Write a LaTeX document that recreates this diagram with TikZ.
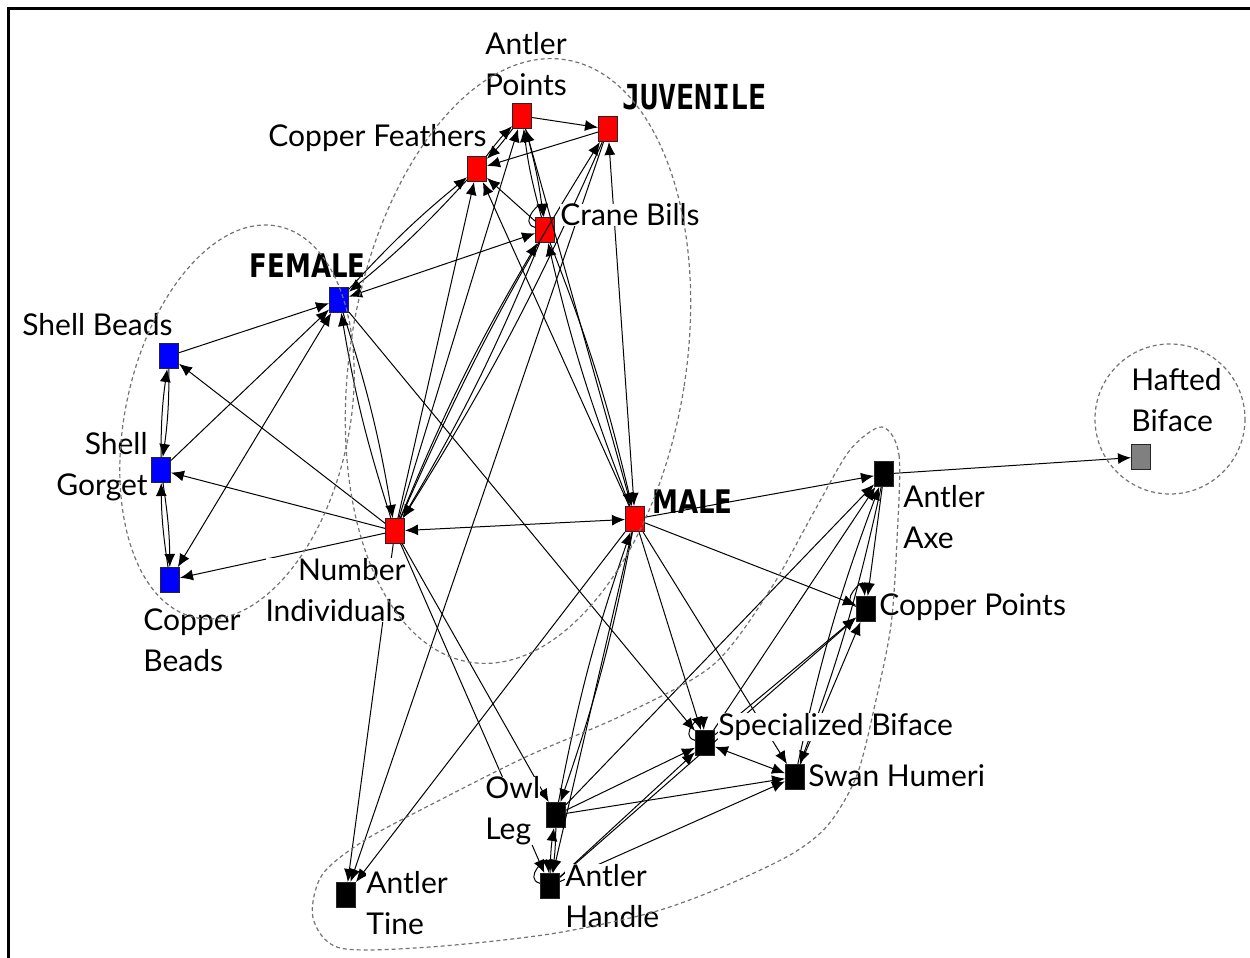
\documentclass[tikz,border=0pt]{standalone}
\usepackage{fontspec}
\setmainfont{Lato}
\newfontfamily\sexfont{DejaVu Sans}
\newfontfamily\agefont{DejaVu Sans Mono}
\usetikzlibrary{arrows.meta}

\begin{document}
\begin{tikzpicture}[x=0.5pt,y=-0.5pt,
    sq/.style={draw=black!85, line width=0.5pt, minimum width=9.5pt, minimum height=12.5pt, inner sep=0pt},
    juv/.style={sq, fill=red},
    fem/.style={sq, fill=blue},
    tool/.style={sq, fill=black},
    lone/.style={sq, fill=black!50},
    lbl/.style={inner sep=0pt, fill=white, font=\fontsize{15}{20.5}\selectfont},
    sex/.style={inner sep=0pt, font=\sexfont\bfseries\fontsize{13}{15}\selectfont},
    age/.style={inner sep=0pt, font=\agefont\bfseries\fontsize{15}{17}\selectfont},
    arc/.style={line width=0.5pt, -{Latex[length=6.5pt,width=5.5pt]}},
    twoway/.style={line width=0.5pt, {Latex[length=6.5pt,width=5.5pt]}-{Latex[length=6.5pt,width=5.5pt]}},
    group/.style={draw=black!55, line width=0.6pt, dash pattern=on 2pt off 1.5pt}]
  \useasboundingbox (0,0) rectangle (1250,958);

  % attributes
  \node[juv] (AP) at (522,116) {};
  \node[juv] (JUV) at (608,129) {};
  \node[juv] (CF) at (477,169) {};
  \node[juv] (CB) at (545,230) {};
  \node[fem] (FEM) at (339,300) {};
  \node[fem] (SB) at (169,356) {};
  \node[fem] (SG) at (161,470) {};
  \node[fem] (CBe) at (170,580) {};
  \node[juv] (NI) at (395,531) {};
  \node[juv] (MALE) at (635,519) {};
  \node[tool] (AA) at (884,474) {};
  \node[lone] (HB) at (1141,457) {};
  \node[tool] (CP) at (866,609) {};
  \node[tool] (SpB) at (705,743) {};
  \node[tool] (SH) at (795,777) {};
  \node[tool] (OL) at (556,815) {};
  \node[tool] (AH) at (550,886) {};
  \node[tool] (AT) at (346,895) {};

  % one way ties
  \foreach \a/\b in {AP/JUV, JUV/CF, CB/CF, SB/FEM, SG/FEM, NI/SB, NI/SG, NI/CBe,
      MALE/AA, MALE/CP, AA/HB, AA/CP, FEM/SpB, MALE/CF, NI/CF, NI/AP,
      MALE/SpB, MALE/SH, MALE/AT, NI/AT, JUV/AT, NI/OL, NI/AH, MALE/AH,
      OL/SpB, OL/SH, AH/SpB, AH/SH, SpB/AA, SpB/CP, SH/CP, OL/AA, AH/CP}
    \draw[arc] (\a) -- (\b);
  % mutual ties on one line
  \foreach \a/\b in {CBe/FEM, NI/MALE, FEM/CB, SpB/SH, MALE/AP, MALE/JUV}
    \draw[twoway] (\a) -- (\b);
  % mutual ties drawn twice
  \foreach \a/\b in {CF/AP, AP/CB, FEM/CF, SB/SG, SG/CBe, FEM/NI, NI/CB, NI/JUV,
      MALE/CB, MALE/OL, OL/AH, SH/AA}{
    \draw[arc] (\a) to[bend left=4] (\b);
    \draw[arc] (\b) to[bend left=4] (\a);
  }
  % self ties
  \foreach \n in {CB,CP,SpB,AH}
    \draw[arc] (\n) to[loop, out=165, in=95, min distance=9pt] (\n);

  % labels
  \node[lbl, align=center] (APl) at (526,64) {Antler\\Points};
  \node[age, anchor=west] (JUVl) at (622,97) {\scalebox{1}[1.15]{JUVENILE}};
  \node[lbl, anchor=east] (CFl) at (487,138) {Copper Feathers};
  \node[lbl, anchor=west] (CBl) at (560,215) {Crane Bills};
  \node[sex, anchor=east] (FEMl) at (366,266) {\scalebox{1}[1.25]{FEMALE}};
  \node[lbl, anchor=west] (SBl) at (22,325) {Shell Beads};
  \node[lbl, anchor=east, align=right] (SGl) at (148,467) {Shell\\Gorget};
  \node[lbl, anchor=west, align=left] (CBel) at (143,640) {Copper\\Beads};
  \node[lbl, anchor=east, align=right] (NIl) at (406,590) {Number\\Individuals};
  \node[sex, anchor=west] (MALEl) at (652,502) {\scalebox{1}[1.25]{MALE}};
  \node[lbl, anchor=west, align=left] (AAl) at (903,517) {Antler\\Axe};
  \node[lbl, anchor=west, align=left] (HBl) at (1131,400) {Hafted\\Biface};
  \node[lbl, anchor=west] (CPl) at (879,607) {Copper Points};
  \node[lbl, anchor=west] (SpBl) at (718,727) {Specialized Biface};
  \node[lbl, anchor=west] (SHl) at (808,776) {Swan Humeri};
  \node[lbl, anchor=west, align=left] (OLl) at (485,811) {Owl\\Leg};
  \node[lbl, anchor=west, align=left] (AHl) at (565,896) {Antler\\Handle};
  \node[lbl, anchor=west, align=left] (ATl) at (366,903) {Antler\\Tine};

  % clusters
  \draw[group, rotate around={-12:(237,422)}] (237,422) ellipse [x radius=112, y radius=200];
  \draw[group, rotate around={-9:(518,361)}] (518,361) ellipse [x radius=168, y radius=305];
  \draw[group] (1170,419) circle [radius=75];
  \draw[group] plot[smooth cycle] coordinates {(882,427) (899,455) (897,540) (891,625)
      (876,700) (857,775) (828,825) (790,855) (720,888) (650,913) (550,934) (430,947)
      (340,948) (313,918) (322,875) (365,840) (440,800) (530,755) (623,715) (713,665)
      (770,590) (815,510) (850,450)};

  % frame
  \draw[line width=1.5pt] (8,958) -- (8,8) -- (1250,8);
\end{tikzpicture}
\end{document}
